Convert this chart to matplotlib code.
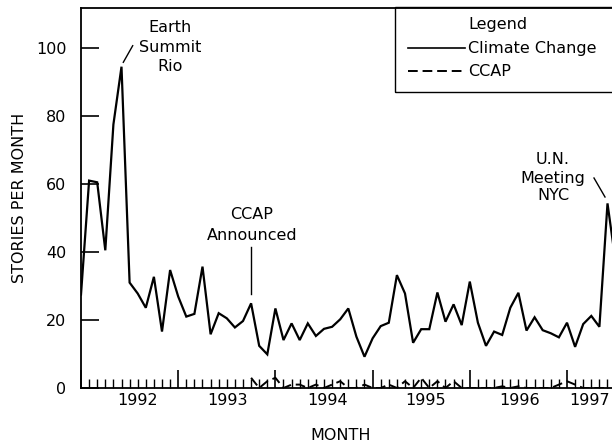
import matplotlib
matplotlib.use("Agg")
import matplotlib.pyplot as plt
from matplotlib.patches import Rectangle
from matplotlib.lines import Line2D
import numpy as np

plt.rcParams['font.family'] = ['DejaVu Sans']

# ---- data (monthly, starting January 1992) ----
start_year = 1992
climate_change = [27.5, 61, 60.5, 40.5, 77.5, 94.5, 31, 27.8, 23.6, 32.7,
                  16.6, 34.7, 26.9, 21, 21.8, 35.7, 15.8, 22, 20.5, 17.8,
                  19.7, 24.9, 12.4, 9.9, 23.4, 14.1, 19, 14.1, 19, 15.3,
                  17.4, 18, 20.2, 23.4, 15.1, 9.2, 14.6, 18.2, 19.2, 33.2,
                  27.8, 13.3, 17.3, 17.3, 28.1, 19.5, 24.6, 18.5, 31.3, 19.2,
                  12.4, 16.6, 15.6, 23.6, 28, 16.9, 20.8, 17, 16.1, 14.9,
                  19.2, 12.1, 18.8, 21.2, 18, 54.3, 37]
ccap_start_month = 21  # October 1993
ccap = [3, 0, 2, 3, 0, 1, 1, 0, 1, 0,
        1, 2, 0, 0, 1, 0, 0, 1, 0, 2,
        0, 3, 0, 2, 0, 2, 0, 0, 0, 0,
        0, 0.5, 0, 0.5, 0, 0, 0, 0, 1, 2,
        1, 0, 0, 0, 0]
year_labels = ['1992', '1993', '1994', '1995', '1996', '1997']
y_ticks = [0, 20, 40, 60, 80, 100]

# ---- layout ----
W, H = 612, 446
fig = plt.figure(figsize=(W / 100, H / 100), dpi=100)
ax_left, ax_bottom_px, ax_top_px = 81, 388, 8
ax = fig.add_axes([ax_left / W, 1 - ax_bottom_px / H, 1 - ax_left / W,
                   (ax_bottom_px - ax_top_px) / H])

x_cc = start_year + np.arange(len(climate_change)) / 12.0
x_ccap = start_year + (ccap_start_month + np.arange(len(ccap))) / 12.0

ax.plot(x_cc, climate_change, color='black', lw=1.6, solid_joinstyle='miter')
ax.plot(x_ccap, ccap, color='black', lw=1.4, dashes=(5, 2.5))

months_visible = (W - ax_left) / 8.1
ax.set_xlim(start_year, start_year + months_visible / 12.0)
ax.set_ylim(0, (ax_bottom_px - ax_top_px) / 3.4)

for s in ['left', 'bottom', 'top']:
    ax.spines[s].set_linewidth(1.3)
ax.spines['right'].set_visible(False)

ax.set_xticks(np.arange(start_year, start_year + 6))
ax.set_xticks(start_year + np.arange(0, 66) / 12.0, minor=True)
ax.tick_params(axis='x', which='major', direction='in', length=13, width=1.2,
               labelbottom=False, top=False)
ax.tick_params(axis='x', which='minor', direction='in', length=6.5, width=1.0,
               top=False)
ax.set_yticks(y_ticks)
ax.set_yticklabels([str(v) for v in y_ticks])
ax.tick_params(axis='y', direction='in', length=13, width=1.2, pad=10.5,
               labelsize=11.5, right=False)

# year labels (placed as in the original figure)
label_month_pos = [7.0, 18.1, 30.4, 42.6, 54.1, 62.8]
for lab, m in zip(year_labels, label_month_pos):
    ax.text(start_year + m / 12.0, -0.014, lab, transform=ax.get_xaxis_transform(),
            ha='center', va='top', fontsize=11.5)

fs = 11.5
def px(x, y):
    return (x / W, 1 - y / H)

fig.text(*px(341, 435), 'MONTH', ha='center', va='center', fontsize=fs)
fig.text(*px(20, 198), 'STORIES PER MONTH', ha='center', va='center',
         rotation=90, fontsize=fs)

# annotations
fig.text(*px(170, 47), 'Earth\nSummit\nRio', ha='center', va='center',
         fontsize=fs, linespacing=1.38)
fig.add_artist(Line2D([132.7 / W, 123.3 / W], [1 - 45.7 / H, 1 - 62.3 / H],
                      color='black', lw=1.0))
fig.text(*px(252, 225), 'CCAP\nAnnounced', ha='center', va='center',
         fontsize=fs, linespacing=1.45)
fig.add_artist(Line2D([251 / W, 251 / W], [1 - 247 / H, 1 - 294 / H],
                      color='black', lw=1.0))
fig.text(*px(553, 178), 'U.N.\nMeeting\nNYC', ha='center', va='center',
         fontsize=fs, linespacing=1.25)
fig.add_artist(Line2D([594 / W, 605 / W], [1 - 178 / H, 1 - 197 / H],
                      color='black', lw=1.0))

# legend box
fig.add_artist(Rectangle(px(395, 92), (W + 20 - 395) / W, (92 - 7) / H,
                         fill=False, edgecolor='black', lw=1.0,
                         transform=fig.transFigure, clip_on=False))
fig.text(*px(468, 24), 'Legend', ha='left', va='center', fontsize=fs)
fig.add_artist(Line2D([408 / W, 465 / W], [1 - 48 / H] * 2, color='black', lw=1.2))
fig.text(*px(468, 48), 'Climate Change', ha='left', va='center', fontsize=fs)
fig.add_artist(Line2D([408 / W, 465 / W], [1 - 71 / H] * 2, color='black', lw=1.4,
                      dashes=(5, 2.5)))
fig.text(*px(468, 71), 'CCAP', ha='left', va='center', fontsize=fs)

fig.savefig('out.png', dpi=100)
